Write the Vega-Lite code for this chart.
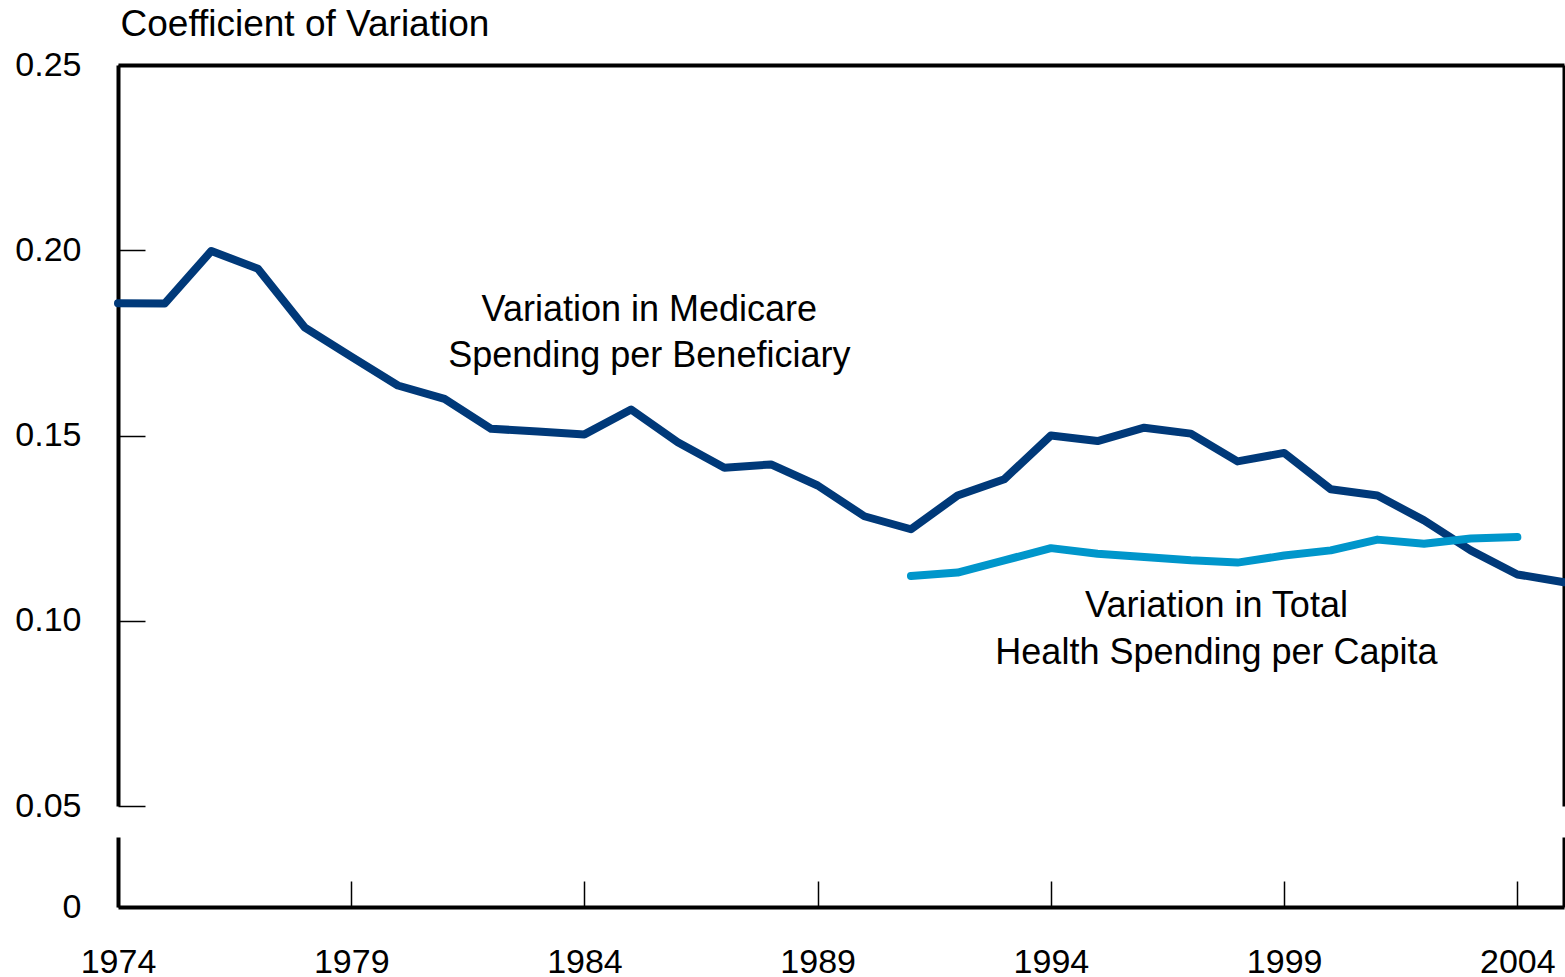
{
  "$schema": "https://vega.github.io/schema/vega-lite/v6.json",
  "background": "white",
  "padding": {"left": 14, "top": 5, "right": 0, "bottom": 0},
  "config": {
    "font": "Liberation Sans",
    "view": {"stroke": null},
    "axis": {
      "grid": false,
      "labelFlush": false,
      "labelOverlap": false,
      "labelFont": "Liberation Sans",
      "labelFontSize": 34,
      "labelColor": "black",
      "domainColor": "black",
      "tickColor": "black"
    }
  },
  "datasets": {
    "cv": [
      {"year": 1974, "series": "Medicare", "cv": 0.1857},
      {"year": 1975, "series": "Medicare", "cv": 0.1856},
      {"year": 1976, "series": "Medicare", "cv": 0.1998},
      {"year": 1977, "series": "Medicare", "cv": 0.1950},
      {"year": 1978, "series": "Medicare", "cv": 0.1792},
      {"year": 1979, "series": "Medicare", "cv": 0.1713},
      {"year": 1980, "series": "Medicare", "cv": 0.1635},
      {"year": 1981, "series": "Medicare", "cv": 0.1599},
      {"year": 1982, "series": "Medicare", "cv": 0.1518},
      {"year": 1983, "series": "Medicare", "cv": 0.1511},
      {"year": 1984, "series": "Medicare", "cv": 0.1503},
      {"year": 1985, "series": "Medicare", "cv": 0.1570},
      {"year": 1986, "series": "Medicare", "cv": 0.1482},
      {"year": 1987, "series": "Medicare", "cv": 0.1413},
      {"year": 1988, "series": "Medicare", "cv": 0.1422},
      {"year": 1989, "series": "Medicare", "cv": 0.1365},
      {"year": 1990, "series": "Medicare", "cv": 0.1282},
      {"year": 1991, "series": "Medicare", "cv": 0.1247},
      {"year": 1992, "series": "Medicare", "cv": 0.1338},
      {"year": 1993, "series": "Medicare", "cv": 0.1382},
      {"year": 1994, "series": "Medicare", "cv": 0.1500},
      {"year": 1995, "series": "Medicare", "cv": 0.1485},
      {"year": 1996, "series": "Medicare", "cv": 0.1521},
      {"year": 1997, "series": "Medicare", "cv": 0.1505},
      {"year": 1998, "series": "Medicare", "cv": 0.1430},
      {"year": 1999, "series": "Medicare", "cv": 0.1453},
      {"year": 2000, "series": "Medicare", "cv": 0.1355},
      {"year": 2001, "series": "Medicare", "cv": 0.1338},
      {"year": 2002, "series": "Medicare", "cv": 0.1271},
      {"year": 2003, "series": "Medicare", "cv": 0.1190},
      {"year": 2004, "series": "Medicare", "cv": 0.1125},
      {"year": 2005, "series": "Medicare", "cv": 0.1104},
      {"year": 1991, "series": "Total", "cv": 0.1121},
      {"year": 1992, "series": "Total", "cv": 0.1130},
      {"year": 1993, "series": "Total", "cv": 0.1163},
      {"year": 1994, "series": "Total", "cv": 0.1196},
      {"year": 1995, "series": "Total", "cv": 0.1181},
      {"year": 1996, "series": "Total", "cv": 0.1172},
      {"year": 1997, "series": "Total", "cv": 0.1163},
      {"year": 1998, "series": "Total", "cv": 0.1157},
      {"year": 1999, "series": "Total", "cv": 0.1176},
      {"year": 2000, "series": "Total", "cv": 0.1190},
      {"year": 2001, "series": "Total", "cv": 0.1219},
      {"year": 2002, "series": "Total", "cv": 0.1208},
      {"year": 2003, "series": "Total", "cv": 0.1222},
      {"year": 2004, "series": "Total", "cv": 0.1226}
    ]
  },
  "bounds": "flush",
  "spacing": 31,
  "vconcat": [
    {
      "width": 1446,
      "height": 741,
      "data": {"name": "cv"},
      "layer": [
        {
          "mark": {"type": "line", "strokeWidth": 8, "strokeCap": "round", "strokeJoin": "round"},
          "encoding": {
            "x": {
              "field": "year", "type": "quantitative",
              "scale": {"domain": [1974, 2005], "nice": false, "zero": false},
              "axis": {"orient": "top", "labels": false, "ticks": false, "domainWidth": 4, "title": null}
            },
            "y": {
              "field": "cv", "type": "quantitative",
              "scale": {"domain": [0.05, 0.25], "nice": false, "zero": false},
              "axis": {
                "orient": "left",
                "values": [0.05, 0.1, 0.15, 0.2, 0.25],
                "format": ".2f",
                "tickSize": -27,
                "tickWidth": 1.5,
                "labelPadding": 64,
                "domainWidth": 4,
                "title": "Coefficient of Variation",
                "titleAngle": 0,
                "titleAlign": "left",
                "titleBaseline": "alphabetic",
                "titleX": 2,
                "titleY": -30,
                "titleFont": "Liberation Sans",
                "titleFontSize": 37,
                "titleFontWeight": "normal",
                "titleColor": "black"
              }
            },
            "color": {
              "field": "series", "type": "nominal",
              "scale": {"domain": ["Medicare", "Total"], "range": ["#003979", "#0096CB"]},
              "legend": null
            }
          }
        },
        {
          "data": {"values": [{}]},
          "mark": {"type": "text", "text": ["Variation in Medicare", "Spending per Beneficiary"], "font": "Liberation Sans", "fontSize": 36, "lineHeight": 46.7, "align": "center", "baseline": "alphabetic", "color": "black"},
          "encoding": {
            "x": {"datum": 1985.39, "type": "quantitative", "axis": null},
            "y": {"datum": 0.1810, "type": "quantitative", "axis": {"orient": "right", "labels": false, "ticks": false, "domainWidth": 4, "title": null}}
          }
        },
        {
          "data": {"values": [{}]},
          "mark": {"type": "text", "text": ["Variation in Total", "Health Spending per Capita"], "font": "Liberation Sans", "fontSize": 36, "lineHeight": 46.7, "align": "center", "baseline": "alphabetic", "color": "black"},
          "encoding": {
            "x": {"datum": 1997.55, "type": "quantitative", "axis": null},
            "y": {"datum": 0.1010, "type": "quantitative", "axis": null}
          }
        }
      ],
      "resolve": {"axis": {"x": "independent", "y": "independent"}}
    },
    {
      "width": 1446,
      "height": 70,
      "data": {"name": "cv"},
      "layer": [
        {
          "mark": {"type": "point", "opacity": 0},
          "encoding": {
            "x": {
              "field": "year", "type": "quantitative",
              "scale": {"domain": [1974, 2005], "nice": false, "zero": false},
              "axis": {
                "orient": "bottom",
                "values": [1974, 1979, 1984, 1989, 1994, 1999, 2004],
                "format": "d",
                "tickSize": -26,
                "tickWidth": 1.5,
                "labelPadding": 64,
                "domainWidth": 4,
                "title": null
              }
            },
            "y": {
              "datum": 0, "type": "quantitative",
              "scale": {"domain": [0, 0.05], "nice": false},
              "axis": {"orient": "left", "values": [0], "format": "d", "ticks": false, "labelPadding": 37, "domainWidth": 4, "title": null}
            }
          }
        },
        {
          "data": {"values": [{}]},
          "mark": {"type": "point", "opacity": 0},
          "encoding": {
            "y": {"datum": 0, "type": "quantitative", "axis": {"orient": "right", "labels": false, "ticks": false, "domainWidth": 4, "title": null}}
          }
        }
      ],
      "resolve": {"axis": {"y": "independent"}}
    }
  ]
}
